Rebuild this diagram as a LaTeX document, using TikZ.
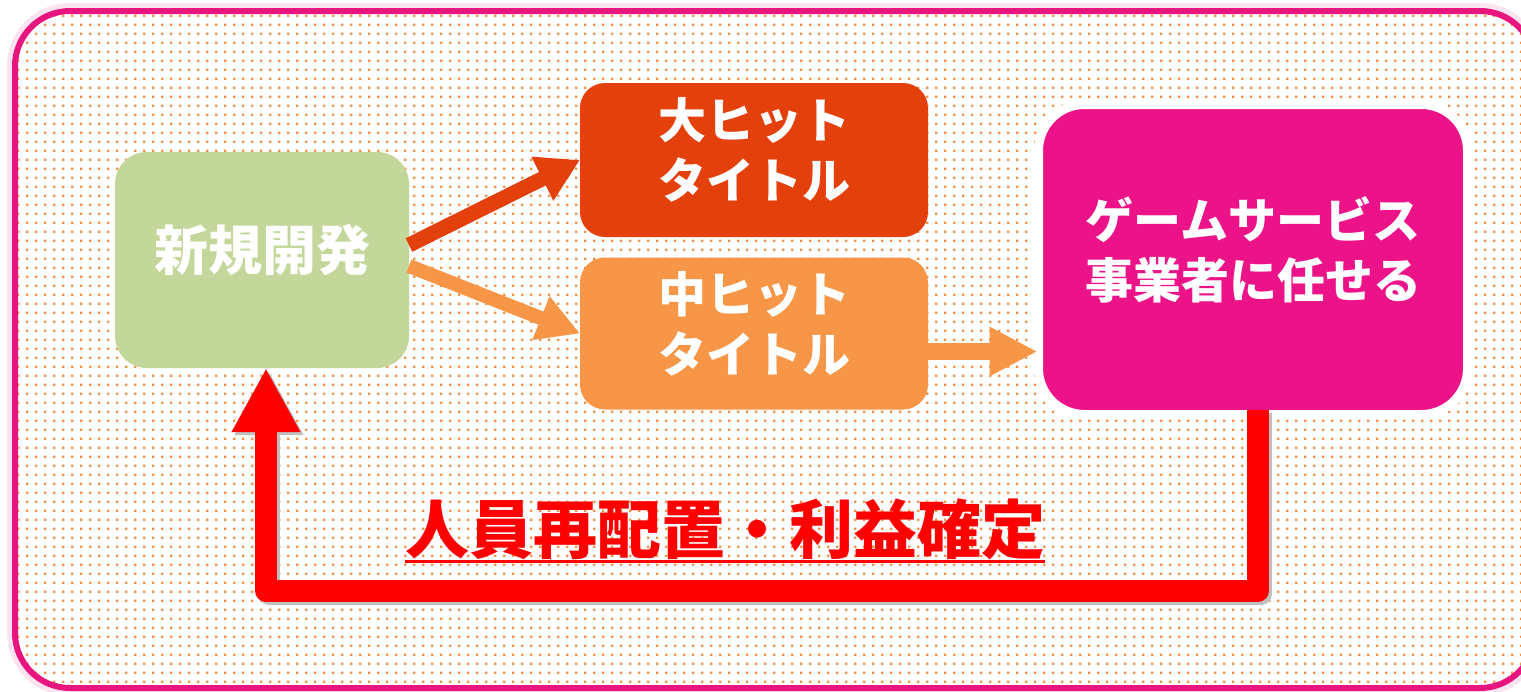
\documentclass[tikz,border=0pt]{standalone}
\usepackage{fontspec}
\newfontfamily\jpfont{Noto Sans CJK JP}
\usetikzlibrary{arrows.meta, patterns.meta}
\definecolor{framepink}{HTML}{E8157F}
\definecolor{dotorange}{HTML}{F39147}
\definecolor{devgreen}{HTML}{C4D79B}
\definecolor{bigred}{HTML}{E4400B}
\definecolor{midorange}{HTML}{F79646}
\definecolor{svcpink}{HTML}{EC1389}
\pgfdeclarepattern{
  name=dotgrid,
  type=uncolored,
  bottom left={\pgfpoint{0pt}{0pt}},
  top right={\pgfpoint{8.5pt}{8.5pt}},
  tile size={\pgfpoint{8.5pt}{8.5pt}},
  code={\pgfpathrectangle{\pgfpointorigin}{\pgfpoint{2.6pt}{2.6pt}}\pgfusepath{fill}}
}

\begin{document}
\begin{tikzpicture}[
    x=1pt, y=-1pt,
    >=Triangle,
  ]
  \tikzset{
    box/.style = {rounded corners=#1, inner sep=0pt, outer sep=0pt},
    txt_m/.style = {yshift=10pt, text=white, align=center, font=\jpfont\bfseries\fontsize{48pt}{60pt}\selectfont},
    txt_l/.style = {yshift=10pt, text=white, align=center, font=\jpfont\bfseries\fontsize{54pt}{60pt}\selectfont},
    arr_big/.style = {line width=15pt, bigred, -{Triangle[length=42pt, width=46pt]}},
    arr_mid/.style = {line width=14pt, midorange, -{Triangle[length=42pt, width=44pt]}},
    arr_svc/.style = {line width=17pt, midorange, -{Triangle[length=48pt, width=46pt]}},
    arr_back/.style = {line width=22pt, red, line join=round, -{Triangle[length=64pt, width=64pt]}},
  }

  % Page
  \useasboundingbox (0,0) rectangle (1521,691);
  \clip (0,0) rectangle (1521,691);
  \fill[white] (0,0) rectangle (1521,691);

  % Frame
  \draw[framepink!12, line width=16pt, rounded corners=55pt] (15,11) rectangle (1535,688);
  \draw[framepink, line width=6pt, rounded corners=55pt, preaction={fill=white},
        pattern=dotgrid, pattern color=dotorange]
        (15,11) rectangle (1535,688);

  % Boxes
  \node[box=32pt, fill=devgreen, minimum width=294pt, minimum height=216pt,
        label={[name=devtxt, txt_l]center:新規開発}] (newdev) at (262,260) {};
  \node[box=25pt, fill=bigred, minimum width=348pt, minimum height=154pt,
        label={[name=bigtxt, txt_m]center:大ヒット\\タイトル}] (bighit) at (754,160) {};
  \node[box=25pt, fill=midorange, minimum width=348pt, minimum height=152pt,
        label={[name=midtxt, txt_m]center:中ヒット\\タイトル}] (midhit) at (754,333.5) {};
  \node[box=46pt, fill=svcpink, draw=white, line width=9pt, minimum width=429pt, minimum height=310pt,
        label={[name=svctxt, txt_m]center:ゲームサービス\\事業者に任せる}] (svc) at (1253,259.5) {};

  % Arrows
  \draw[arr_big] ([yshift=15pt]newdev.east) -- (bighit.west);
  \draw[arr_mid] ([yshift=-6pt]newdev.east) -- (midhit.west);
  \coordinate (midout) at ([yshift=-18pt]midhit.east);
  \draw[arr_svc, shorten >=1pt] (midout) -- (midout -| svc.west);

  % Return to new development
  \draw[arr_back, black!25, transform canvas={xshift=3pt, yshift=-3pt}]
    ([xshift=5pt, yshift=5pt]svc.south) -- ++(0,181) -| ([xshift=4pt]newdev.south);
  \draw[arr_back] ([xshift=5pt, yshift=5pt]svc.south) -- ++(0,181) -| ([xshift=4pt]newdev.south);

  % Label
  \node[anchor=base, inner sep=0pt, text=red, font=\jpfont\bfseries\fontsize{64pt}{70pt}\selectfont] (gain) at (725,553) {人員再配置・利益確定};
  \draw[red, line width=3pt] ([yshift=-8pt]gain.base west) -- ([yshift=-8pt]gain.base east);

\end{tikzpicture}
\end{document}
